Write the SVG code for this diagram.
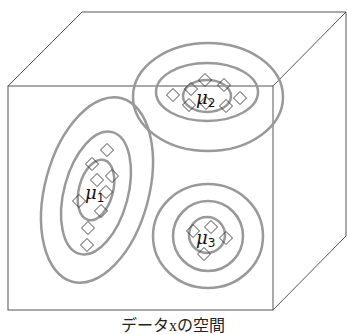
<svg xmlns="http://www.w3.org/2000/svg" width="347" height="334" viewBox="0 0 347 334">
<defs>
<style>
.cube{fill:none;stroke:#555;stroke-width:1}
.ring{fill:none;stroke:#999;stroke-width:2.5}
.pt{fill:#fff;fill-opacity:0;stroke:#333;stroke-width:0.9}
.mu{font-family:"DejaVu Serif","Liberation Serif",serif;font-style:italic;font-size:18px;fill:#111}
.sub{font-family:"DejaVu Sans","Liberation Sans",sans-serif;font-style:normal;font-size:12px;fill:#111}
.cap{font-family:"Liberation Serif","Noto Sans CJK JP",serif;font-size:16px;fill:#222}
</style>
<path id="d" d="M0,-6.5 L6.5,0 L0,6.5 L-6.5,0 Z"/>
</defs>
<rect width="347" height="334" fill="#fff"/>
<g id="cube">
<rect class="cube" x="8" y="86" width="265" height="224"/>
<path class="cube" d="M8,86 L82,12 L346,12 L273,86 M346,12 L346,236 L273,310"/>
</g>
<g id="cluster1">
<ellipse class="ring" cx="97" cy="190" rx="52" ry="95" transform="rotate(15 97 190)"/>
<ellipse class="ring" cx="96" cy="193" rx="32" ry="63" transform="rotate(15 96 193)"/>
<ellipse class="ring" cx="96" cy="190" rx="17" ry="31" transform="rotate(15 96 190)"/>
<use href="#d" class="pt" x="107" y="150"/>
<use href="#d" class="pt" x="92" y="164"/>
<use href="#d" class="pt" x="97" y="180"/>
<use href="#d" class="pt" x="112" y="176"/>
<use href="#d" class="pt" x="106" y="192"/>
<use href="#d" class="pt" x="79" y="201"/>
<use href="#d" class="pt" x="101" y="211"/>
<use href="#d" class="pt" x="88" y="228"/>
<use href="#d" class="pt" x="87" y="245"/>
<text class="mu" x="85" y="199">μ<tspan class="sub" dy="3">1</tspan></text>
</g>
<g id="cluster2">
<ellipse class="ring" cx="208" cy="97" rx="75" ry="54"/>
<ellipse class="ring" cx="207" cy="92" rx="51" ry="29"/>
<ellipse class="ring" cx="207" cy="96" rx="24" ry="16"/>
<use href="#d" class="pt" x="173" y="95"/>
<use href="#d" class="pt" x="191" y="89"/>
<use href="#d" class="pt" x="205" y="80"/>
<use href="#d" class="pt" x="224" y="85"/>
<use href="#d" class="pt" x="240" y="98"/>
<use href="#d" class="pt" x="226" y="106"/>
<use href="#d" class="pt" x="189" y="105"/>
<use href="#d" class="pt" x="206" y="103"/>
<text class="mu" x="196" y="104">μ<tspan class="sub" dy="3">2</tspan></text>
</g>
<g id="cluster3">
<ellipse class="ring" cx="208" cy="236" rx="55" ry="52"/>
<circle class="ring" cx="208" cy="236" r="35"/>
<circle class="ring" cx="207" cy="235" r="18"/>
<use href="#d" class="pt" x="193" y="231"/>
<use href="#d" class="pt" x="211" y="227"/>
<use href="#d" class="pt" x="226" y="238"/>
<use href="#d" class="pt" x="204" y="254"/>
<text class="mu" x="196" y="244">μ<tspan class="sub" dy="3">3</tspan></text>
</g>
<text class="cap" x="173" y="331" text-anchor="middle">データxの空間</text>
</svg>
